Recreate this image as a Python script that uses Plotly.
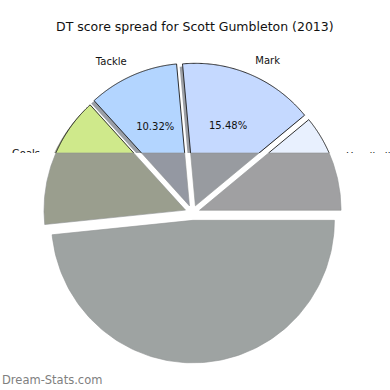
import numpy as np
import plotly.graph_objects as go

# ---- data ----
categories = ["Handball", "Mark", "Tackle", "Goals", "Kick"]
dt_points = [34, 48, 32, 46, 150]
top_colors = ["#e8f0fe", "#c5d9ff", "#b3d5ff", "#cfe98b", "#dcdcdc"]
low_colors = ["#a0a0a2", "#989ba0", "#9498a2", "#9a9e8e", "#9ea3a2"]
title_text = "DT score spread for Scott Gumbleton (2013)"
watermark = "Dream-Stats.com"

# ---- geometry / style (pixel-like units, y downwards) ----
CX, CY = 192.5, 212.8
RX, RY = 141.5, 142.5
EXPLODE = 0.053
CUT_Y = 153.0
SHADOW = (-0.02, -0.02)
FONT = "DejaVu Sans"


def hex_rgb(h):
    h = h.lstrip("#")
    return tuple(int(h[i:i + 2], 16) for i in (0, 2, 4))


def wedge(t1, t2, ox, oy, n=120):
    th = np.radians(np.linspace(t1, t2, n))
    xs = [ox] + list(ox + RX * np.cos(th)) + [ox]
    ys = [oy] + list(oy - RY * np.sin(th)) + [oy]
    return list(zip(xs, ys))


def clip_poly(pts, above=True):
    def inside(p):
        return p[1] <= CUT_Y if above else p[1] >= CUT_Y

    def inter(a, b):
        t = (CUT_Y - a[1]) / (b[1] - a[1])
        return (a[0] + t * (b[0] - a[0]), CUT_Y)

    out = []
    n = len(pts)
    for i in range(n):
        cur, prev = pts[i], pts[i - 1]
        if inside(cur):
            if not inside(prev):
                out.append(inter(prev, cur))
            out.append(cur)
        elif inside(prev):
            out.append(inter(prev, cur))
    return out


def clip_line(pts):
    xs, ys = [], []
    for a, b in zip(pts[:-1], pts[1:]):
        ia, ib = a[1] <= CUT_Y, b[1] <= CUT_Y
        if ia and ib:
            xs += [a[0], b[0], None]
            ys += [a[1], b[1], None]
        elif ia or ib:
            t = (CUT_Y - a[1]) / (b[1] - a[1])
            c = (a[0] + t * (b[0] - a[0]), CUT_Y)
            p = a if ia else b
            xs += [p[0], c[0], None]
            ys += [p[1], c[1], None]
    return xs, ys


total = float(sum(dt_points))
fracs = [v / total for v in dt_points]

fig = go.Figure()
shadow_traces, upper_fill, upper_line, text_items, lower_fill = [], [], [], [], []

start = 0.0
for cat, f, tc, lc in zip(categories, fracs, top_colors, low_colors):
    t1, t2 = start, start + 360.0 * f
    mid = np.radians((t1 + t2) / 2)
    ox = CX + EXPLODE * RX * np.cos(mid)
    oy = CY - EXPLODE * RY * np.sin(mid)
    pts = wedge(t1, t2, ox, oy)

    # shadow
    sp = [(x + SHADOW[0] * RX, y - SHADOW[1] * RY) for x, y in pts]
    sp = clip_poly(sp, True)
    r, g, b = hex_rgb(tc)
    sr, sg, sb = [int(round(255 * (1 - 0.5) + 0.5 * 0.3 * c)) for c in (r, g, b)]
    if sp:
        shadow_traces.append(go.Scatter(x=[p[0] for p in sp], y=[p[1] for p in sp],
                                        fill="toself", mode="none",
                                        fillcolor=f"rgb({sr},{sg},{sb})", hoverinfo="skip"))
    up = clip_poly(pts, True)
    if up:
        upper_fill.append(go.Scatter(x=[p[0] for p in up], y=[p[1] for p in up],
                                     fill="toself", mode="none", fillcolor=tc,
                                     hoverinfo="skip"))
        lx, ly = clip_line(pts)
        upper_line.append(go.Scatter(x=lx, y=ly, mode="lines",
                                     line=dict(color="#1a1a1a", width=0.9),
                                     hoverinfo="skip"))
    lo = clip_poly(pts, False)
    if lo:
        lower_fill.append(go.Scatter(x=[p[0] for p in lo], y=[p[1] for p in lo],
                                     fill="toself", mode="lines",
                                     line=dict(color="#8e9292", width=0.6),
                                     fillcolor=lc, hoverinfo="skip"))
    # labels
    lxp = ox + 1.1 * RX * np.cos(mid)
    lyp = oy - 1.1 * RY * np.sin(mid)
    pos = "middle right" if np.cos(mid) > 0 else "middle left"
    text_items.append((lxp, lyp, cat, pos))
    pxp = ox + 0.6 * RX * np.cos(mid)
    pyp = oy - 0.6 * RY * np.sin(mid)
    text_items.append((pxp, pyp, f"{100 * f:.2f}%", "middle center"))
    start = t2

for t in shadow_traces + upper_fill + upper_line:
    fig.add_trace(t)

for x, y, s, pos in text_items:
    fig.add_trace(go.Scatter(x=[x], y=[y], mode="text", text=[s], textposition=pos,
                             textfont=dict(family=FONT, size=10, color="#111111"),
                             hoverinfo="skip"))

# white cover for lower half (clips labels there)
fig.add_trace(go.Scatter(x=[-10, 400, 400, -10], y=[CUT_Y, CUT_Y, 400, 400],
                         fill="toself", mode="none", fillcolor="white", hoverinfo="skip"))
for t in lower_fill:
    fig.add_trace(t)

fig.add_annotation(x=195, y=26, xref="x", yref="y", text=title_text, showarrow=False,
                   font=dict(family=FONT, size=12.5, color="#111111"))
fig.add_annotation(x=0, y=380, xref="x", yref="y", text=watermark, showarrow=False,
                   xanchor="left", font=dict(family=FONT, size=11.5, color="#808080"))

fig.update_layout(width=390, height=390, margin=dict(l=0, r=0, t=0, b=0),
                  paper_bgcolor="white", plot_bgcolor="white", showlegend=False,
                  xaxis=dict(range=[0, 390], visible=False, fixedrange=True),
                  yaxis=dict(range=[390, 0], visible=False, fixedrange=True))
fig.write_html("out.html")
